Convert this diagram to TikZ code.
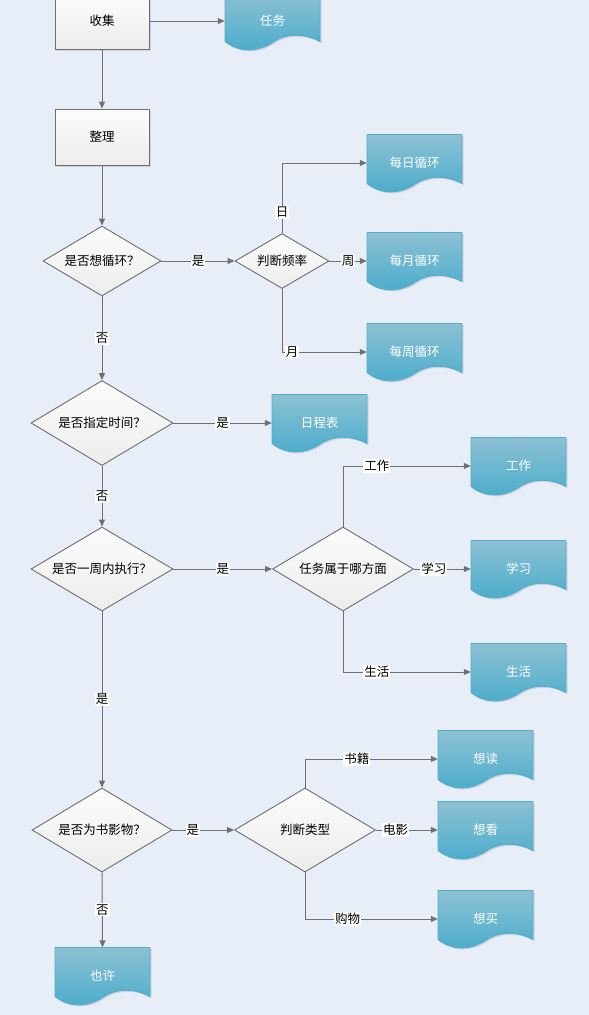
\documentclass[tikz,border=0pt]{standalone}
\usepackage{fontspec}
\setmainfont{Noto Sans CJK SC}
\usetikzlibrary{shapes.geometric,arrows.meta}
\definecolor{bgc}{RGB}{232,238,248}
\definecolor{docTop}{RGB}{141,193,212}
\definecolor{docBot}{RGB}{74,172,203}
\definecolor{docLine}{RGB}{84,172,203}
\definecolor{lineC}{RGB}{112,112,112}
\definecolor{boxLine}{RGB}{110,110,110}
\definecolor{boxTop}{RGB}{252,252,252}
\definecolor{boxBot}{RGB}{236,236,236}
\definecolor{shadowC}{RGB}{205,212,224}
\newcommand\mydocpath{(0,0) -- (95,0) -- (95,49) .. controls (80,41) and (62,40) .. (47.5,50) .. controls (32,60) and (14,60) .. (0,49) -- cycle}
\newcommand\docnode[4]{%
  \begin{scope}[shift={(#2,#3)}]
    \fill[shadowC, shift={(1.5,1.5)}] \mydocpath;
    \path[docshape] \mydocpath;
    \node[doctext] (#1) at (47.5,28.5) {#4};
  \end{scope}}
\begin{document}
\begin{tikzpicture}[x=1pt,y=-1pt,
  txt/.style={font=\fontsize{12.5}{14}\selectfont},
  docshape/.style={draw=docLine, line width=0.9pt, top color=docTop, bottom color=docBot},
  doctext/.style={txt, text=white, minimum width=95pt, minimum height=57pt, inner sep=0pt},
  boxnode/.style={txt, draw=boxLine, line width=0.9pt, top color=boxTop, bottom color=boxBot, minimum width=94pt, minimum height=56pt, inner sep=0pt},
  decnode/.style={txt, shape=diamond, draw=boxLine, line width=0.9pt, top color=boxTop, bottom color=boxBot, inner sep=0pt},
  conn/.style={draw=lineC, line width=1pt, -{Triangle[length=7pt,width=6pt]}},
  lbl/.style={txt, fill=white, inner sep=1pt, text=black}]
\useasboundingbox (0,0) rectangle (589,1015);
\clip (0,0) rectangle (589,1015);
\fill[bgc] (0,0) rectangle (589,1015);

% process boxes
\fill[shadowC] (56.5,-5.5) rectangle (150.5,50.5);
\node[boxnode] (b1) at (102,21) {收集};
\fill[shadowC] (56.5,110.5) rectangle (150.5,166.5);
\node[boxnode] (b2) at (102,137) {整理};

% decisions
\node[decnode, shape aspect=1.69, minimum width=118pt, minimum height=70pt] (d1) at (102,261) {是否想循环？};
\node[decnode, shape aspect=1.71, minimum width=94pt, minimum height=55pt] (d2) at (282,261) {判断频率};
\node[decnode, shape aspect=1.67, minimum width=142pt, minimum height=85pt] (d3) at (102,423) {是否指定时间？};
\node[decnode, shape aspect=1.69, minimum width=142pt, minimum height=84pt] (d4) at (102,569) {是否一周内执行？};
\node[decnode, shape aspect=1.68, minimum width=141pt, minimum height=84pt] (d5) at (343,569) {任务属于哪方面};
\node[decnode, shape aspect=1.67, minimum width=140pt, minimum height=84pt] (d6) at (102,830) {是否为书影物？};
\node[decnode, shape aspect=1.68, minimum width=141pt, minimum height=84pt] (d7) at (305,830) {判断类型};

% documents
\docnode{t0}{225}{-7.5}{任务}
\docnode{m1}{367}{134.5}{每日循环}
\docnode{m2}{367}{232.5}{每月循环}
\docnode{m3}{367}{323.5}{每周循环}
\docnode{s1}{272}{394.5}{日程表}
\docnode{w1}{471}{437.5}{工作}
\docnode{w2}{471}{540.5}{学习}
\docnode{w3}{471}{643.5}{生活}
\docnode{r1}{438}{730.5}{想读}
\docnode{r2}{438}{801.5}{想看}
\docnode{r3}{438}{890.5}{想买}
\docnode{y1}{55}{947.5}{也许}

% connectors
\draw[conn] (b1.east) -- (t0.west);
\draw[conn] (b1.south) -- (b2.north);
\draw[conn] (b2.south) -- (d1.north);
\draw[conn] (d1.east) -- node[lbl] (l1) {是} (d2.west);
\draw[conn] (d2.north) |- node[lbl, pos=0.148] (l2) {日} (m1.west);
\draw[conn] (d2.east) -- node[lbl] (l3) {周} (m2.west);
\draw[conn] (d2.south) |- node[lbl, pos=0.56] (l4) {月} (m3.west);
\draw[conn] (d1.south) -- node[lbl] (l5) {否} (d3.north);
\draw[conn] (d3.east) -- node[lbl] (l6) {是} (s1.west);
\draw[conn] (d3.south) -- node[lbl] (l7) {否} (d4.north);
\draw[conn] (d4.east) -- node[lbl] (l8) {是} (d5.west);
\draw[conn] (d5.north) |- node[lbl, pos=0.633] (l9) {工作} (w1.west);
\draw[conn] (d5.east) -- node[lbl, pos=0.35] (l10) {学习} (w2.west);
\draw[conn] (d5.south) |- node[lbl, pos=0.633] (l11) {生活} (w3.west);
\draw[conn] (d4.south) -- node[lbl] (l12) {是} (d6.north);
\draw[conn] (d6.east) -- node[lbl, pos=0.33] (l13) {是} (d7.west);
\draw[conn] (d7.north) |- node[lbl, pos=0.695] (l14) {书籍} (r1.west);
\draw[conn] (d7.east) -- node[lbl, pos=0.32] (l15) {电影} (r2.west);
\draw[conn] (d7.south) |- node[lbl, pos=0.66] (l16) {购物} (r3.west);
\draw[conn] (d6.south) -- node[lbl] (l17) {否} (y1.north);
\end{tikzpicture}
\end{document}
